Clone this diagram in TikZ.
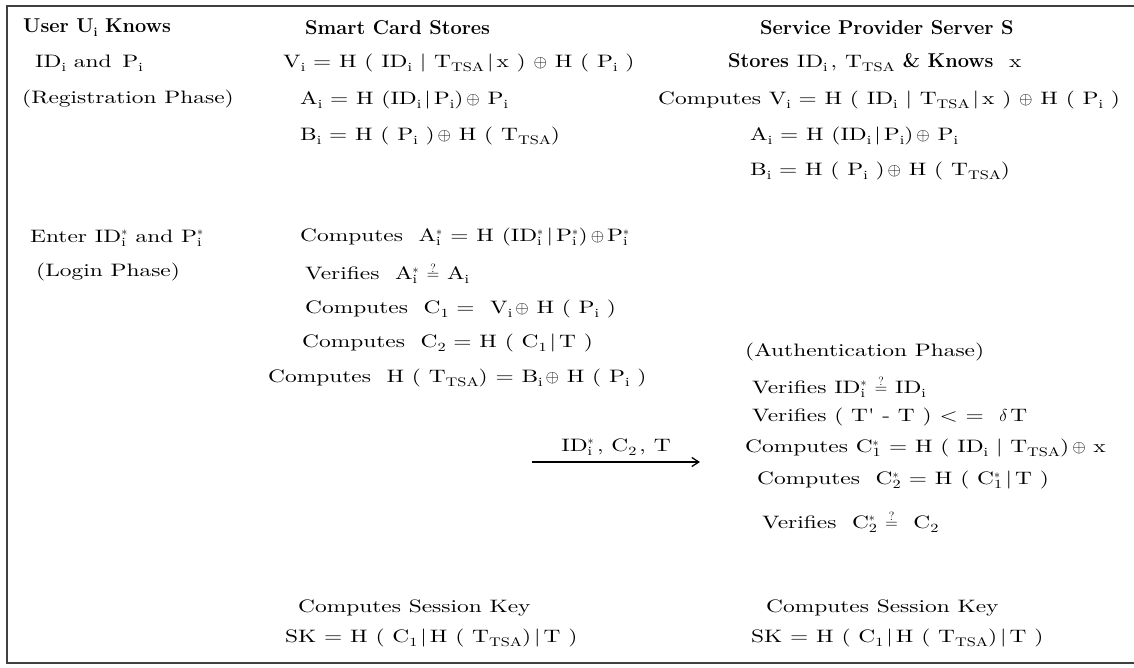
\documentclass[tikz,border=0pt]{standalone}
\usepackage{fontspec}
\usepackage{tikz}
\usetikzlibrary{arrows.meta}
\newfontfamily\bodyfont{lmroman10-regular.otf}[FakeStretch=1.3]
% subscript / starred subscript in the running font
\newcommand{\subx}[1]{\raisebox{-4pt}{\fontsize{12.5}{12.5}\selectfont #1}}
\newcommand{\starx}[1]{\ensuremath{^{*}_{\hbox{\fontsize{12.5}{12.5}\selectfont #1}}}}
\newcommand{\qeq}{\smash{$\stackrel{\raisebox{-1.5pt}{$\scriptstyle ?$}}{=}$}}
\tikzset{
  hd/.style  = {anchor=west, inner sep=0pt, font=\fontsize{20}{24}\selectfont\bfseries},
  txt/.style = {anchor=west, inner sep=0pt, font=\bodyfont\fontsize{18}{21}\selectfont},
  arr/.style = {-{Straight Barb[length=7pt,width=9pt]}, line width=1.3pt},
  frm/.style = {draw=black!75, line width=2.6pt},
}

\begin{document}
\begin{tikzpicture}[x=1pt, y=-1pt]
\useasboundingbox (0,0) rectangle (1134,667);

%% ── Frame (open on the right, as cut off) ─────────────────────────────
\draw[frm] (1140,6) -- (7,6) -- (7,663) -- (1140,663);

%% ── Column 1: User ────────────────────────────────────────────────────
\node[hd]  (user)   at (23, 28)  {User U\subx{i} Knows};
\node[txt] (uid)    at (35, 63)  {ID\subx{i} and\, P\subx{i}};
\node[txt] (ureg)   at (22, 99)  {(Registration Phase)};
\node[txt] (uenter) at (30, 238) {Enter ID\starx{i} and P\starx{i}};
\node[txt] (ulogin) at (36, 272) {(Login Phase)};

%% ── Column 2: Smart Card ──────────────────────────────────────────────
\node[hd]  (card) at (305, 28)  {Smart Card Stores};
\node[txt] (cV)   at (283, 63)  {V\subx{i} = H\ (\ ID\subx{i}\ |\ T\subx{TSA}\,|\,x\ )\ $\oplus$\ H\ (\ P\subx{i}\ )};
\node[txt] (cA)   at (300, 100) {A\subx{i} = H\ (ID\subx{i}\,|\,P\subx{i})\,$\oplus$\ P\subx{i}};
\node[txt] (cB)   at (300, 136) {B\subx{i} = H\ (\ P\subx{i}\ )\,$\oplus$\ H\ (\ T\subx{TSA})};
\node[txt] (cAs)  at (300, 237) {Computes\ \ A\starx{i} = H\ (ID\starx{i}\,|\,P\starx{i})\,$\oplus$\,P\starx{i}};
\node[txt] (cVer) at (305, 275) {Verifies\ \ A\starx{i} \qeq\ A\subx{i}};
\node[txt] (cC1)  at (305, 309) {Computes\ \ C\subx{1} = \ V\subx{i}\,$\oplus$\ H\ (\ P\subx{i}\ )};
\node[txt] (cC2)  at (302, 343) {Computes\ \ C\subx{2} = H\ (\ C\subx{1}\,|\,T\ )};
\node[txt] (cH)   at (268, 378) {Computes\ \ H\ (\ T\subx{TSA}) = B\subx{i}\,$\oplus$\ H\ (\ P\subx{i}\ )};
\node[txt] (cSK1) at (298, 608) {Computes Session Key};
\node[txt] (cSK2) at (285, 638) {SK = H\ (\ C\subx{1}\,|\,H\ (\ T\subx{TSA})\,|\,T\ )};

%% ── Column 3: Server ──────────────────────────────────────────────────
\node[hd]  (srv)    at (760, 28)  {Service Provider Server S};
\node[txt] (sStore) at (728, 63)  {{\normalfont\fontsize{20}{24}\selectfont\bfseries Stores} ID\subx{i}\,, T\subx{TSA} {\normalfont\fontsize{20}{24}\selectfont\bfseries \& Knows}\ \ x};
\node[txt] (sV)     at (658, 100) {Computes\ V\subx{i} = H\ (\ ID\subx{i}\ |\ T\subx{TSA}\,|\,x\ )\ $\oplus$\ H\ (\ P\subx{i}\ )};
\node[txt] (sA)     at (750, 136) {A\subx{i} = H\ (ID\subx{i}\,|\,P\subx{i})\,$\oplus$\ P\subx{i}};
\node[txt] (sB)     at (750, 171) {B\subx{i} = H\ (\ P\subx{i}\ )\,$\oplus$\ H\ (\ T\subx{TSA})};
\node[txt] (sAuth)  at (745, 352) {(Authentication Phase)};
\node[txt] (sVer1)  at (752, 389) {Verifies ID\starx{i} \qeq\ ID\subx{i}};
\node[txt] (sVer2)  at (752, 417) {Verifies (\ T' - T\ ) < = \ $\delta$\,T};
\node[txt] (sC1)    at (745, 448) {Computes C\starx{1} = H\ (\ ID\subx{i}\ |\ T\subx{TSA})\,$\oplus$\ x};
\node[txt] (sC2)    at (757, 480) {Computes\ \ C\starx{2} = H\ (\ C\starx{1}\,|\,T\ )};
\node[txt] (sVer3)  at (762, 524) {Verifies\ \ C\starx{2} \qeq\ \ C\subx{2}};
\node[txt] (sSK1)   at (766, 608) {Computes Session Key};
\node[txt] (sSK2)   at (751, 638) {SK = H\ (\ C\subx{1}\,|\,H\ (\ T\subx{TSA})\,|\,T\ )};

%% ── Message: card → server ────────────────────────────────────────────
\coordinate (msgL) at (532, 462);
\coordinate (msgR) at (700, 462);
\draw[arr] (msgL) -- node[txt, anchor=south, yshift=6pt]{ID\starx{i}\,, C\subx{2}\,, T} (msgR);

\end{tikzpicture}
\end{document}
